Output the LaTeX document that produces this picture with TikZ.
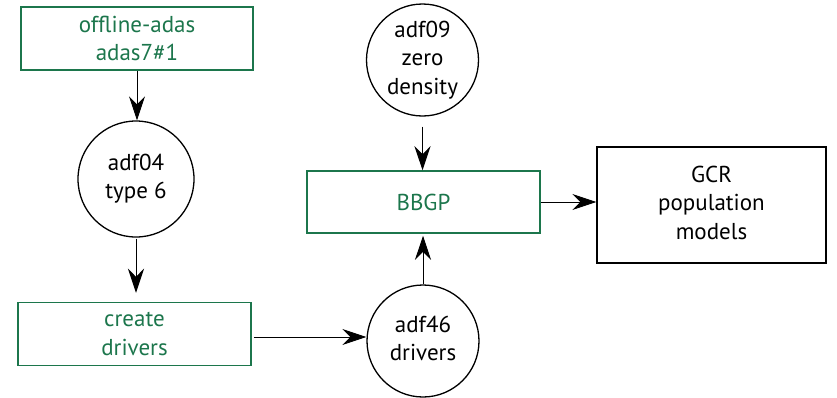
\documentclass[tikz,border=0pt]{standalone}
\usepackage{fontspec}
\setmainfont{PT Sans}
\usetikzlibrary{arrows.meta}
\definecolor{boxgreen}{RGB}{28,118,76}
\newcommand{\liftup}[2]{\raisebox{#1}{\begin{tabular}{@{}c@{}}#2\end{tabular}}}
\begin{document}
\begin{tikzpicture}[x=1pt,y=-1pt,
  every node/.style={font=\fontsize{23}{28.5}\selectfont, align=center, inner sep=0pt},
  gbox/.style={draw=boxgreen, line width=1.5pt, text=boxgreen, rectangle},
  kbox/.style={draw=black, line width=1.4pt, text=black, rectangle},
  circ/.style={draw=black, line width=1.3pt, circle, text=black},
  conn/.style={draw=black, line width=0.9pt, -{Stealth[length=24pt,width=16pt,inset=8pt]}}]
\useasboundingbox (0,0) rectangle (837,397);
\node[gbox, minimum width=232pt, minimum height=63pt] (offline) at (137,38.5) {offline-adas\\adas7\#1};
\node[circ, minimum size=116pt] (adf04) at (136,179) {\liftup{11pt}{adf04\\type 6}};
\node[gbox, minimum width=233pt, minimum height=63pt] (create) at (134.5,334) {create\\drivers};
\node[circ, minimum size=112pt] (adf46) at (423,341) {\liftup{12pt}{adf46\\drivers}};
\node[gbox, minimum width=233pt, minimum height=62pt] (bbgp) at (423.5,202) {BBGP};
\node[circ, minimum size=112pt] (adf09) at (422.5,60) {\liftup{-3pt}{adf09\\zero\\density}};
\node[kbox, minimum width=229pt, minimum height=116pt] (gcr) at (711.5,205) {\liftup{7pt}{GCR\\population\\models}};
\draw[conn] (offline.south) -- (offline.south |- adf04.north);
\draw[conn, shorten <=1pt, shorten >=9pt] (adf04.south) -- (adf04.south |- create.north);
\draw[conn, shorten <=2pt] ([yshift=-3pt]create.east) -- ([yshift=-3pt]create.east -| adf46.west);
\draw[conn, shorten >=2pt] (adf46.north) -- (adf46.north |- bbgp.south);
\draw[conn, shorten <=10pt] (adf09.south) -- (adf09.south |- bbgp.north);
\draw[conn] (bbgp.east) -- (bbgp.east -| gcr.west);
\end{tikzpicture}
\end{document}
